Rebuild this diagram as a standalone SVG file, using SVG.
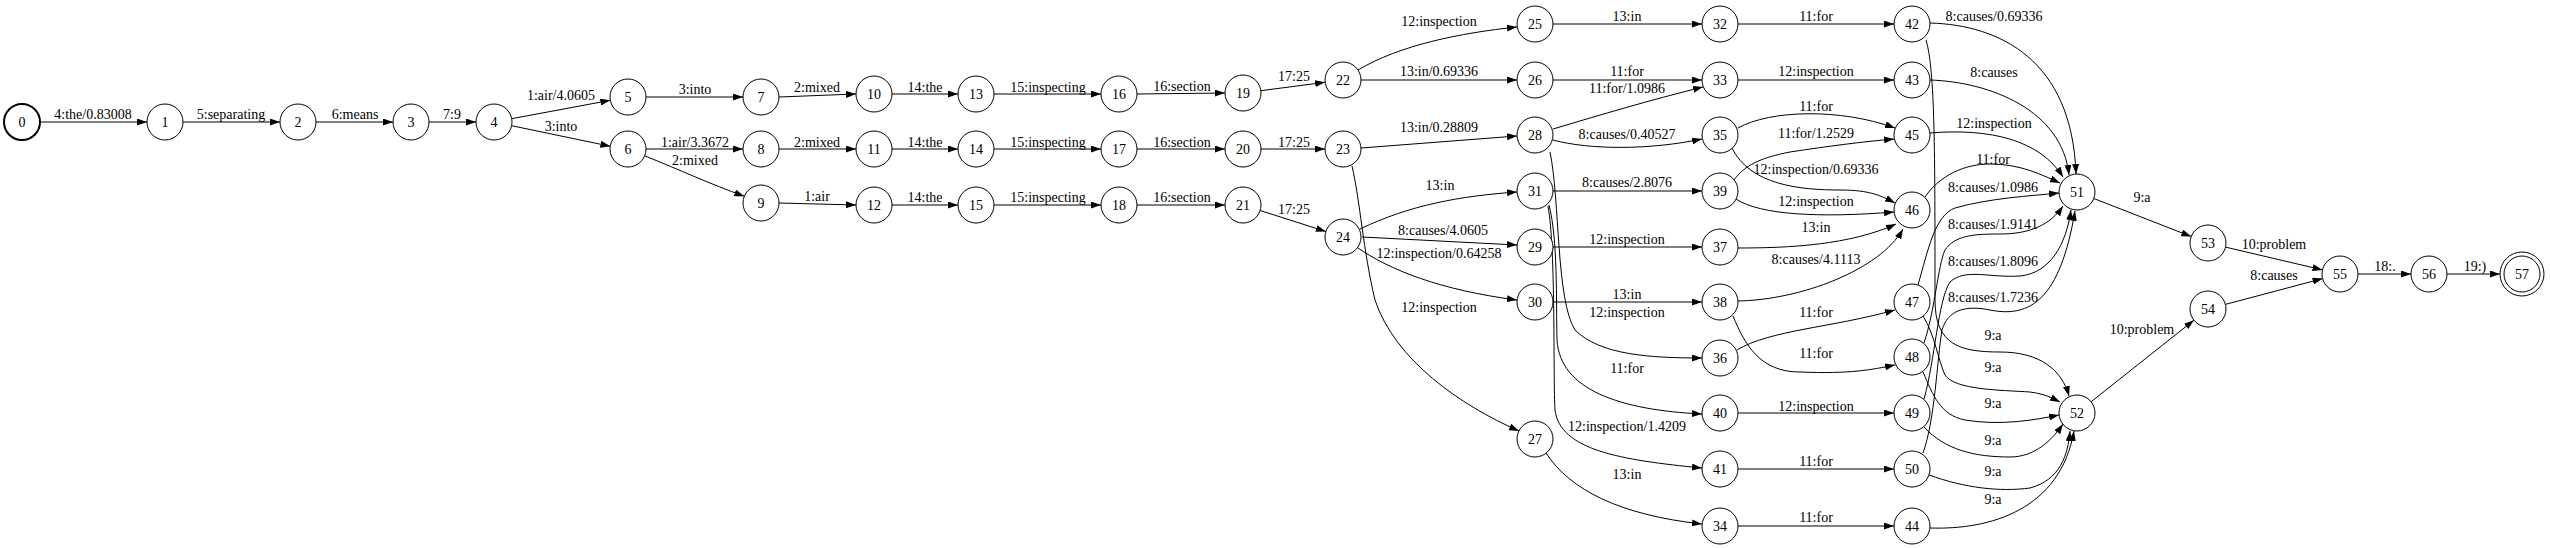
<svg xmlns="http://www.w3.org/2000/svg" width="2550" height="548" viewBox="0 0 2550 548">
<style>
.n circle{fill:#fff;stroke:#000;stroke-width:1}
.n text,.l text{font-family:"Liberation Serif","Times New Roman",serif;font-size:14px;fill:#000;text-anchor:middle}
.e path{fill:none;stroke:#000;stroke-width:1;marker-end:url(#a)}
</style>
<defs>
<marker id="a" markerWidth="10" markerHeight="7" refX="10" refY="3.5" orient="auto" markerUnits="userSpaceOnUse"><path d="M0,0 L10,3.5 L0,7 z" fill="#000"/></marker>
</defs>
<rect width="2550" height="548" fill="#fff"/>
<g class="e" id="connectors">
<path d="M40,122 L147,122"/>
<path d="M183,122 L280,122"/>
<path d="M316,122 L393,122"/>
<path d="M429,122 L476,122"/>
<path d="M511.7,118.7 L610.3,100.3"/>
<path d="M511.6,125.7 L610.4,146.3"/>
<path d="M646,97 L743,97"/>
<path d="M779,97 L856,94"/>
<path d="M892,94 L958,94"/>
<path d="M994,94 L1101,94"/>
<path d="M1137,94 L1225,93"/>
<path d="M646,149 L743,149"/>
<path d="M644.7,155.8 C680,170 710,184 744.3,196.2"/>
<path d="M779,149 L856,149"/>
<path d="M892,149 L958,149"/>
<path d="M994,149 L1101,149"/>
<path d="M1137,149 L1225,149"/>
<path d="M779,203 L856,205"/>
<path d="M892,205 L958,205"/>
<path d="M994,205 L1101,205"/>
<path d="M1137,205 L1225,205"/>
<path d="M1260.9,90.7 L1325.1,82.3"/>
<path d="M1261,149 L1325,149"/>
<path d="M1260.1,210.5 L1325.9,231.5"/>
<path d="M1358,70 C1400,45 1460,33 1517,27"/>
<path d="M1361,80 L1517,80"/>
<path d="M1361,148 L1517,136"/>
<path d="M1352,166 C1360,200 1363,250 1375,300 C1395,360 1460,405 1519,431"/>
<path d="M1360,229 C1410,205 1460,196 1517,192"/>
<path d="M1362,237 L1517,245"/>
<path d="M1358,248 C1390,270 1440,290 1517,300"/>
<path d="M1553,24 L1702,24"/>
<path d="M1553,80 L1702,80"/>
<path d="M1553,129 C1600,115 1650,100 1703,87"/>
<path d="M1553,140 C1590,150 1650,150 1702,139"/>
<path d="M1550,152 C1560,200 1556,300 1575,330 C1600,355 1650,358 1702,358"/>
<path d="M1553,191 L1702,191"/>
<path d="M1549,205 C1558,240 1556,300 1557,340 C1560,390 1620,410 1702,414"/>
<path d="M1548,206 C1556,250 1553,380 1555,410 C1560,450 1620,460 1702,468"/>
<path d="M1553,247 L1702,247"/>
<path d="M1553,302 L1702,302"/>
<path d="M1546,453 C1570,490 1620,515 1702,524"/>
<path d="M1738,24 L1894,24"/>
<path d="M1738,80 L1894,80"/>
<path d="M1738,128 C1770,110 1840,108 1895,128"/>
<path d="M1734,180 C1745,165 1760,158 1790,152 C1830,146 1860,142 1894,139"/>
<path d="M1732,148 C1750,185 1800,190 1840,190 C1870,190 1882,196 1895,203"/>
<path d="M1736,199 C1760,215 1820,218 1894,212"/>
<path d="M1738,248 C1790,248 1850,245 1896,224"/>
<path d="M1738,301 C1800,300 1880,270 1903,229"/>
<path d="M1737,350 C1770,330 1830,328 1895,310"/>
<path d="M1733,316 C1745,345 1760,372 1800,372 C1850,374 1870,370 1895,365"/>
<path d="M1738,413 L1894,413"/>
<path d="M1738,469 L1894,469"/>
<path d="M1738,526 L1894,526"/>
<path d="M1930,23 C2000,25 2072,60 2076,174"/>
<path d="M1926,40 C1935,70 1935,150 1935,300 C1935,345 1960,352 2000,352 C2040,352 2062,370 2069,396"/>
<path d="M1930,80 C1990,82 2062,110 2069,175"/>
<path d="M1930,133 C1990,128 2040,140 2063,177"/>
<path d="M1925,197 C1940,175 1965,164 1990,164 C2020,164 2040,174 2060,183"/>
<path d="M1918,285 C1928,250 1935,215 1955,208 C1990,198 2030,196 2059,193"/>
<path d="M1924,343 C1935,310 1938,265 1945,250 C1955,235 1975,234 2000,234 C2030,234 2050,225 2063,206"/>
<path d="M1924,399 C1935,360 1938,300 1950,282 C1965,268 1990,278 2020,276 C2050,273 2066,245 2071,210"/>
<path d="M1923,453 C1935,420 1937,360 1942,330 C1948,310 1965,305 1990,310 C2030,318 2060,300 2075,211"/>
<path d="M1923,316 C1935,335 1938,360 1945,375 C1955,390 2000,390 2030,392 C2045,394 2052,398 2060,402"/>
<path d="M1923,372 C1933,395 1940,415 1965,420 C2000,426 2035,420 2059,415"/>
<path d="M1924,427 C1945,450 1975,457 2010,457 C2035,457 2052,440 2063,424"/>
<path d="M1929,475 C1965,488 2000,492 2030,488 C2060,480 2068,455 2070,431"/>
<path d="M1930,528 C1990,530 2060,510 2074,431"/>
<path d="M2093.8,198.5 L2191.2,236.5"/>
<path d="M2091.1,401.8 L2193.9,320.2"/>
<path d="M2225.5,247.1 L2322.5,269.9"/>
<path d="M2225.4,304.4 L2322.6,278.6"/>
<path d="M2358,274 L2411,274"/>
<path d="M2447,274 L2500,274"/>
</g>
<g class="l" id="edge-labels">
<text x="93" y="119">4:the/0.83008</text>
<text x="231" y="119">5:separating</text>
<text x="355" y="119">6:means</text>
<text x="452" y="119">7:9</text>
<text x="561" y="100">1:air/4.0605</text>
<text x="561" y="131">3:into</text>
<text x="695" y="94">3:into</text>
<text x="817" y="92">2:mixed</text>
<text x="925" y="92">14:the</text>
<text x="1048" y="92">15:inspecting</text>
<text x="1182" y="91">16:section</text>
<text x="695" y="147">1:air/3.3672</text>
<text x="695" y="165">2:mixed</text>
<text x="817" y="147">2:mixed</text>
<text x="925" y="147">14:the</text>
<text x="1048" y="147">15:inspecting</text>
<text x="1182" y="147">16:section</text>
<text x="817" y="201">1:air</text>
<text x="925" y="202">14:the</text>
<text x="1048" y="202">15:inspecting</text>
<text x="1182" y="202">16:section</text>
<text x="1294" y="81">17:25</text>
<text x="1294" y="147">17:25</text>
<text x="1294" y="214">17:25</text>
<text x="1439" y="26">12:inspection</text>
<text x="1439" y="76">13:in/0.69336</text>
<text x="1439" y="132">13:in/0.28809</text>
<text x="1440" y="190">13:in</text>
<text x="1443" y="235">8:causes/4.0605</text>
<text x="1439" y="258">12:inspection/0.64258</text>
<text x="1439" y="312">12:inspection</text>
<text x="1627" y="21">13:in</text>
<text x="1627" y="76">11:for</text>
<text x="1627" y="93">11:for/1.0986</text>
<text x="1627" y="139">8:causes/0.40527</text>
<text x="1627" y="187">8:causes/2.8076</text>
<text x="1627" y="244">12:inspection</text>
<text x="1627" y="299">13:in</text>
<text x="1627" y="317">12:inspection</text>
<text x="1627" y="373">11:for</text>
<text x="1627" y="431">12:inspection/1.4209</text>
<text x="1627" y="479">13:in</text>
<text x="1816" y="21">11:for</text>
<text x="1816" y="76">12:inspection</text>
<text x="1816" y="111">11:for</text>
<text x="1816" y="138">11:for/1.2529</text>
<text x="1816" y="174">12:inspection/0.69336</text>
<text x="1816" y="206">12:inspection</text>
<text x="1816" y="232">13:in</text>
<text x="1816" y="264">8:causes/4.1113</text>
<text x="1816" y="317">11:for</text>
<text x="1816" y="358">11:for</text>
<text x="1816" y="411">12:inspection</text>
<text x="1816" y="466">11:for</text>
<text x="1816" y="522">11:for</text>
<text x="1994" y="21">8:causes/0.69336</text>
<text x="1994" y="77">8:causes</text>
<text x="1994" y="128">12:inspection</text>
<text x="1993" y="164">11:for</text>
<text x="1993" y="192">8:causes/1.0986</text>
<text x="1993" y="229">8:causes/1.9141</text>
<text x="1993" y="266">8:causes/1.8096</text>
<text x="1993" y="302">8:causes/1.7236</text>
<text x="1993" y="340">9:a</text>
<text x="1993" y="372">9:a</text>
<text x="1993" y="408">9:a</text>
<text x="1993" y="445">9:a</text>
<text x="1993" y="476">9:a</text>
<text x="1993" y="504">9:a</text>
<text x="2142" y="202">9:a</text>
<text x="2274" y="249">10:problem</text>
<text x="2274" y="280">8:causes</text>
<text x="2142" y="334">10:problem</text>
<text x="2385" y="271">18:.</text>
<text x="2475" y="271">19:)</text>
</g>
<g class="n" id="node0"><circle cx="22" cy="122" r="18" style="stroke-width:2"/><text x="22" y="127">0</text></g>
<g class="n" id="node1"><circle cx="165" cy="122" r="18"/><text x="165" y="127">1</text></g>
<g class="n" id="node2"><circle cx="298" cy="122" r="18"/><text x="298" y="127">2</text></g>
<g class="n" id="node3"><circle cx="411" cy="122" r="18"/><text x="411" y="127">3</text></g>
<g class="n" id="node4"><circle cx="494" cy="122" r="18"/><text x="494" y="127">4</text></g>
<g class="n" id="node5"><circle cx="628" cy="97" r="18"/><text x="628" y="102">5</text></g>
<g class="n" id="node6"><circle cx="628" cy="149" r="18"/><text x="628" y="154">6</text></g>
<g class="n" id="node7"><circle cx="761" cy="97" r="18"/><text x="761" y="102">7</text></g>
<g class="n" id="node8"><circle cx="761" cy="149" r="18"/><text x="761" y="154">8</text></g>
<g class="n" id="node9"><circle cx="761" cy="203" r="18"/><text x="761" y="208">9</text></g>
<g class="n" id="node10"><circle cx="874" cy="94" r="18"/><text x="874" y="99">10</text></g>
<g class="n" id="node11"><circle cx="874" cy="149" r="18"/><text x="874" y="154">11</text></g>
<g class="n" id="node12"><circle cx="874" cy="205" r="18"/><text x="874" y="210">12</text></g>
<g class="n" id="node13"><circle cx="976" cy="94" r="18"/><text x="976" y="99">13</text></g>
<g class="n" id="node14"><circle cx="976" cy="149" r="18"/><text x="976" y="154">14</text></g>
<g class="n" id="node15"><circle cx="976" cy="205" r="18"/><text x="976" y="210">15</text></g>
<g class="n" id="node16"><circle cx="1119" cy="94" r="18"/><text x="1119" y="99">16</text></g>
<g class="n" id="node17"><circle cx="1119" cy="149" r="18"/><text x="1119" y="154">17</text></g>
<g class="n" id="node18"><circle cx="1119" cy="205" r="18"/><text x="1119" y="210">18</text></g>
<g class="n" id="node19"><circle cx="1243" cy="93" r="18"/><text x="1243" y="98">19</text></g>
<g class="n" id="node20"><circle cx="1243" cy="149" r="18"/><text x="1243" y="154">20</text></g>
<g class="n" id="node21"><circle cx="1243" cy="205" r="18"/><text x="1243" y="210">21</text></g>
<g class="n" id="node22"><circle cx="1343" cy="80" r="18"/><text x="1343" y="85">22</text></g>
<g class="n" id="node23"><circle cx="1343" cy="149" r="18"/><text x="1343" y="154">23</text></g>
<g class="n" id="node24"><circle cx="1343" cy="237" r="18"/><text x="1343" y="242">24</text></g>
<g class="n" id="node25"><circle cx="1535" cy="24" r="18"/><text x="1535" y="29">25</text></g>
<g class="n" id="node26"><circle cx="1535" cy="80" r="18"/><text x="1535" y="85">26</text></g>
<g class="n" id="node27"><circle cx="1535" cy="439" r="18"/><text x="1535" y="444">27</text></g>
<g class="n" id="node28"><circle cx="1535" cy="135" r="18"/><text x="1535" y="140">28</text></g>
<g class="n" id="node29"><circle cx="1535" cy="247" r="18"/><text x="1535" y="252">29</text></g>
<g class="n" id="node30"><circle cx="1535" cy="302" r="18"/><text x="1535" y="307">30</text></g>
<g class="n" id="node31"><circle cx="1535" cy="191" r="18"/><text x="1535" y="196">31</text></g>
<g class="n" id="node32"><circle cx="1720" cy="24" r="18"/><text x="1720" y="29">32</text></g>
<g class="n" id="node33"><circle cx="1720" cy="80" r="18"/><text x="1720" y="85">33</text></g>
<g class="n" id="node34"><circle cx="1720" cy="526" r="18"/><text x="1720" y="531">34</text></g>
<g class="n" id="node35"><circle cx="1720" cy="135" r="18"/><text x="1720" y="140">35</text></g>
<g class="n" id="node36"><circle cx="1720" cy="358" r="18"/><text x="1720" y="363">36</text></g>
<g class="n" id="node37"><circle cx="1720" cy="247" r="18"/><text x="1720" y="252">37</text></g>
<g class="n" id="node38"><circle cx="1720" cy="302" r="18"/><text x="1720" y="307">38</text></g>
<g class="n" id="node39"><circle cx="1720" cy="191" r="18"/><text x="1720" y="196">39</text></g>
<g class="n" id="node40"><circle cx="1720" cy="413" r="18"/><text x="1720" y="418">40</text></g>
<g class="n" id="node41"><circle cx="1720" cy="469" r="18"/><text x="1720" y="474">41</text></g>
<g class="n" id="node42"><circle cx="1912" cy="24" r="18"/><text x="1912" y="29">42</text></g>
<g class="n" id="node43"><circle cx="1912" cy="80" r="18"/><text x="1912" y="85">43</text></g>
<g class="n" id="node44"><circle cx="1912" cy="526" r="18"/><text x="1912" y="531">44</text></g>
<g class="n" id="node45"><circle cx="1912" cy="135" r="18"/><text x="1912" y="140">45</text></g>
<g class="n" id="node46"><circle cx="1912" cy="210" r="18"/><text x="1912" y="215">46</text></g>
<g class="n" id="node47"><circle cx="1912" cy="302" r="18"/><text x="1912" y="307">47</text></g>
<g class="n" id="node48"><circle cx="1912" cy="357" r="18"/><text x="1912" y="362">48</text></g>
<g class="n" id="node49"><circle cx="1912" cy="413" r="18"/><text x="1912" y="418">49</text></g>
<g class="n" id="node50"><circle cx="1912" cy="469" r="18"/><text x="1912" y="474">50</text></g>
<g class="n" id="node51"><circle cx="2077" cy="192" r="18"/><text x="2077" y="197">51</text></g>
<g class="n" id="node52"><circle cx="2077" cy="413" r="18"/><text x="2077" y="418">52</text></g>
<g class="n" id="node53"><circle cx="2208" cy="243" r="18"/><text x="2208" y="248">53</text></g>
<g class="n" id="node54"><circle cx="2208" cy="309" r="18"/><text x="2208" y="314">54</text></g>
<g class="n" id="node55"><circle cx="2340" cy="274" r="18"/><text x="2340" y="279">55</text></g>
<g class="n" id="node56"><circle cx="2429" cy="274" r="18"/><text x="2429" y="279">56</text></g>
<g class="n" id="node57"><circle cx="2522" cy="274" r="22"/><circle cx="2522" cy="274" r="18"/><text x="2522" y="279">57</text></g>
</svg>
